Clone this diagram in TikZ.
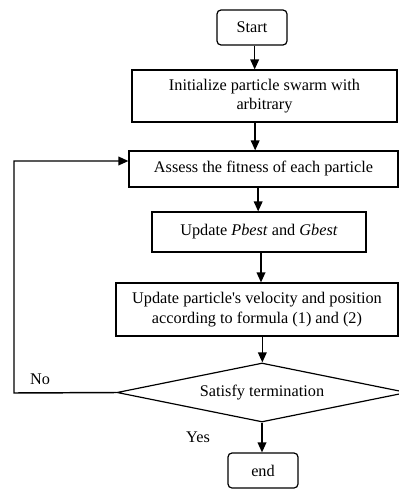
\documentclass[tikz,border=0pt]{standalone}
\usepackage{fontspec}
\setmainfont{Liberation Serif}
\usetikzlibrary{shapes.geometric,arrows.meta}

\begin{document}
\begin{tikzpicture}[
    x=0.75pt, y=-0.75pt,
    font=\fontsize{12.2}{14.5}\selectfont,
    process/.style={rectangle, draw, line width=0.9pt, inner sep=0pt, align=center},
    terminal/.style={process, rounded corners=3pt},
    decision/.style={diamond, draw, line width=0.9pt, inner sep=0pt, aspect=4.9},
    >={Triangle[length=7.5pt,width=6.5pt]},
    line width=1.1pt
]
\useasboundingbox (0,0) rectangle (399,489);

% Steps
\node[terminal, minimum width=52.5pt, minimum height=26.25pt] (start) at (252,27.5) {Start};
\node[process, minimum width=198.75pt, minimum height=39pt] (init) at (264.5,96) {Initialize particle swarm with\\arbitrary};
\node[process, minimum width=201.75pt, minimum height=27pt] (assess) at (263.5,169) {Assess the fitness of each particle};
\node[process, minimum width=160.5pt, minimum height=30pt] (best) at (259,232) {Update \textit{Pbest} and \textit{Gbest}};
\node[process, minimum width=211.5pt, minimum height=39.75pt] (move) at (257,309.5) {Update particle\textquotesingle s velocity and position\\according to formula (1) and (2)};
\node[decision, minimum width=217.5pt, minimum height=44.25pt] (check) at (262,392.5) {Satisfy termination};
\node[terminal, minimum width=52.5pt, minimum height=26.25pt] (end) at (263,470.5) {end};

% Connections
\draw[->] ([xshift=2pt]start.south) -- ([xshift=2pt]start.south |- init.north);
\draw[->] ([xshift=-7pt]init.south) -- ([xshift=-7pt]init.south |- assess.north);
\draw[->] ([xshift=-4pt]assess.south) -- ([xshift=-4pt]assess.south |- best.north);
\draw[->] ([xshift=1.5pt]best.south) -- ([xshift=1.5pt]best.south |- move.north);
\draw[->] ([xshift=4pt]move.south) -- ([xshift=4pt]move.south |- check.north);
\draw[->] (check.south) -- (check.south |- end.north);

% Loop back
\coordinate (lb) at (14,393);
\coordinate (lt) at (14,161);
\draw[->] (check.west) -- (lb) -- (lt) -- (lt -| assess.west);

% Labels
\node (no) at (40,379) {No};
\node (yes) at (198,437) {Yes};

\end{tikzpicture}
\end{document}
